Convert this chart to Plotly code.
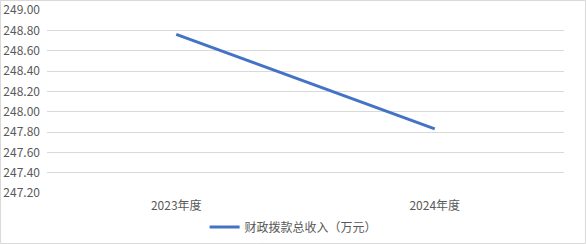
import plotly.graph_objects as go

categories = ["2023年度", "2024年度"]
values = [248.76, 247.83]
series_name = "财政拨款总收入（万元）"

W, H = 586, 244
L, R, T, B = 47, 22, 10, 51
pw, ph = W - L - R, H - T - B

font = "Microsoft YaHei, Noto Sans CJK SC, sans-serif"

fig = go.Figure()
fig.add_trace(go.Scatter(
    x=categories, y=values, mode="lines", name=series_name,
    line=dict(color="#4472C4", width=3),
))

fig.update_layout(
    width=W, height=H,
    margin=dict(l=L, r=R, t=T, b=B, autoexpand=False),
    paper_bgcolor="white", plot_bgcolor="white",
    font=dict(family=font, size=12, color="#595959"),
    showlegend=True,
    legend=dict(orientation="h", x=0.477, xanchor="center",
                yref="container", y=1 - 227 / H, yanchor="middle",
                font=dict(size=12, color="#595959"), itemwidth=30),
    xaxis=dict(range=[-0.5, 1.5], showgrid=False, zeroline=False, showline=False, ticks="",
               automargin=False, ticklabelstandoff=4,
               tickfont=dict(size=12, color="#595959")),
    yaxis=dict(range=[247.2, 249.0], dtick=0.2, tick0=247.2, tickformat=".2f",
               showgrid=True, gridcolor="#D9D9D9", gridwidth=1,
               zeroline=False, showline=False, ticks="", automargin=False,
               ticklabelstandoff=6,
               tickfont=dict(size=12, color="#595959")),
    shapes=[dict(type="rect", xref="paper", yref="paper",
                 x0=(0.5 - L) / pw, x1=(W - 0.5 - L) / pw,
                 y0=(T + ph - (H - 0.5)) / ph, y1=(T + ph - 0.5) / ph,
                 line=dict(color="#D9D9D9", width=1), fillcolor="rgba(0,0,0,0)",
                 layer="below")],
)

fig.write_html("out.html")
